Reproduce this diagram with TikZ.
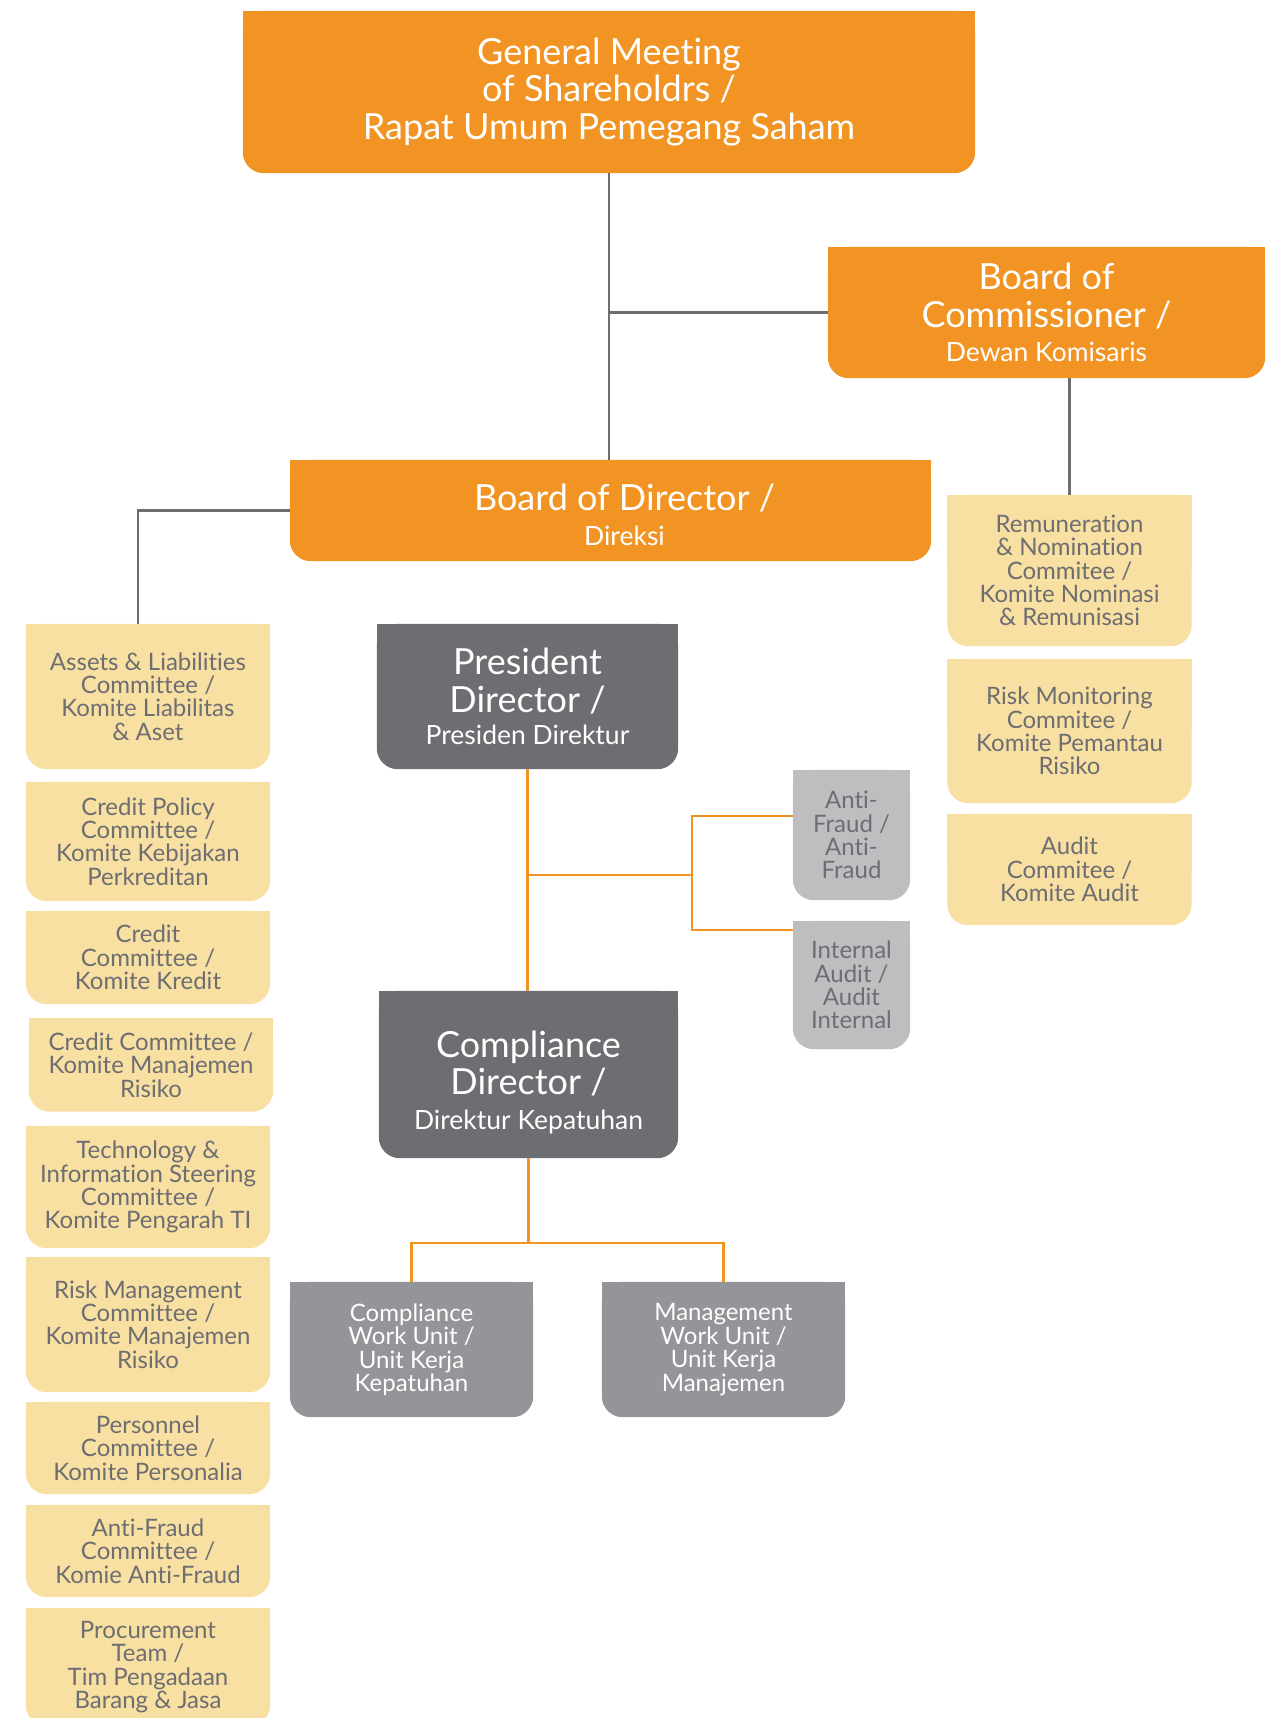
\documentclass[tikz,border=0pt]{standalone}
\usepackage{fontspec}
\setmainfont{Lato}[Ligatures=NoCommon]
\usetikzlibrary{backgrounds}
\definecolor{orng}{HTML}{F29423}
\definecolor{sand}{HTML}{F8DFA2}
\definecolor{slate}{HTML}{6D6E71}
\definecolor{steel}{HTML}{939598}
\definecolor{mist}{HTML}{BCBEC0}
\newcommand{\subline}{\fontsize{26.5}{34}\selectfont}
\newcommand{\topgap}[1]{\rule{0pt}{#1}}
\newcommand{\nudge}{\hspace*{28pt}}
\tikzset{
  box/.style={inner sep=0pt, align=center},
  head/.style={box, text=white, font=\fontsize{36}{37.5}\selectfont},
  unit/.style={box, text=white, font=\fontsize{24}{23.5}\selectfont},
  cmte/.style={box, text=slate, font=\fontsize{24}{23.3}\selectfont, minimum width=244, minimum height=#1},
  side/.style={box, text=slate, font=\fontsize{24}{23.3}\selectfont, minimum width=117, minimum height=#1},
  link/.style={slate, line width=2.4pt},
  olink/.style={orng, line width=2.4pt}
}
\begin{document}
\begin{tikzpicture}[x=1pt,y=-1pt]
\useasboundingbox (0,0) rectangle (1277,1718);
\node[head, minimum width=732, minimum height=162] (gms) at (609,92) {General Meeting\\of Shareholdrs /\\Rapat Umum Pemegang Saham};
\node[head, minimum width=437, minimum height=131] (boc) at (1046.5,312.5) {Board of\\Commissioner /\\[-3pt]{\subline Dewan Komisaris}};
\node[head, minimum width=641, minimum height=101] (bod) at (610.5,510.5) {\nudge\topgap{35pt}Board of Director /\\[-3pt]\nudge{\subline Direksi}};
\node[head, minimum width=301, minimum height=145] (pd) at (527.5,696.5) {President\\Director /\\[-5pt]{\subline Presiden Direktur}};
\node[head, minimum width=299, minimum height=167] (cd) at (528.5,1074.5) {\topgap{42pt}Compliance\\Director /\\[-3pt]{\subline Direktur Kepatuhan}};
\node[side=130] (af) at (851.5,835) {Anti-\\Fraud /\\Anti-\\Fraud};
\node[side=128] (ia) at (851.5,985) {Internal\\Audit /\\Audit\\Internal};
\node[unit, minimum width=243, minimum height=135] (cwu) at (411.5,1349.5) {Compliance\\Work Unit /\\Unit Kerja\\Kepatuhan};
\node[unit, minimum width=243, minimum height=135] (mwu) at (723.5,1349.5) {Management\\Work Unit /\\Unit Kerja\\Manajemen};
\node[cmte=145] (l1) at (148,696.5) {Assets \& Liabilities\\Committee /\\Komite Liabilitas\\\& Aset};
\node[cmte=119] (l2) at (148,841.5) {Credit Policy\\Committee /\\Komite Kebijakan\\Perkreditan};
\node[cmte=93] (l3) at (148,957.5) {Credit\\Committee /\\Komite Kredit};
\node[cmte=93] (l4) at (151,1065) {Credit Committee /\\Komite Manajemen\\Risiko};
\node[cmte=122] (l5) at (148,1187) {Technology \&\\Information Steering\\Committee /\\Komite Pengarah TI};
\node[cmte=135] (l6) at (148,1324.5) {Risk Management\\Committee /\\Komite Manajemen\\Risiko};
\node[cmte=92] (l7) at (148,1448) {Personnel\\Committee /\\Komite Personalia};
\node[cmte=92] (l8) at (148,1551) {Anti-Fraud\\Committee /\\Komie Anti-Fraud};
\node[cmte=118] (l9) at (148,1667) {Procurement\\Team /\\Tim Pengadaan\\Barang \& Jasa};
\node[cmte=151] (r1) at (1069.5,570.5) {Remuneration\\\& Nomination\\Commitee /\\Komite Nominasi\\\& Remunisasi};
\node[cmte=144] (r2) at (1069.5,731) {Risk Monitoring\\Commitee /\\Komite Pemantau\\Risiko};
\node[cmte=111] (r3) at (1069.5,869.5) {Audit\\Commitee /\\Komite Audit};
\begin{scope}[on background layer]
\foreach \n/\c in {gms/orng,boc/orng,bod/orng,pd/slate,cd/slate,af/mist,ia/mist,cwu/steel,mwu/steel,l1/sand,l2/sand,l3/sand,l4/sand,l5/sand,l6/sand,l7/sand,l8/sand,l9/sand,r1/sand,r2/sand,r3/sand}{
  \fill[\c, rounded corners=21] (\n.north west) rectangle (\n.south east);
  \fill[\c] (\n.north west) rectangle (\n.east);
}
\end{scope}
\coordinate (afj) at (692,816);
\coordinate (iaj) at (692,930);
\coordinate (pdj) at (692,875);
\coordinate (cdj) at (528.5,1243);
\draw[link] (gms.south) -- (gms.south |- bod.north);
\draw[link] (boc.west) -- (boc.west -| gms.south);
\draw[link] (bod.west) -| ([xshift=-10pt]l1.north);
\draw[link] (boc.south -| r1.north) -- (r1.north);
\draw[olink] (pd.south) -- (pd.south |- cd.north);
\draw[olink] (pdj -| pd.south) -- (pdj);
\draw[olink] (afj -| af.west) -- (afj) -- (iaj) -- (iaj -| ia.west);
\draw[olink] (cd.south) -- (cdj);
\draw[olink] (cwu.north) |- (cdj) -| (mwu.north);
\end{tikzpicture}
\end{document}
